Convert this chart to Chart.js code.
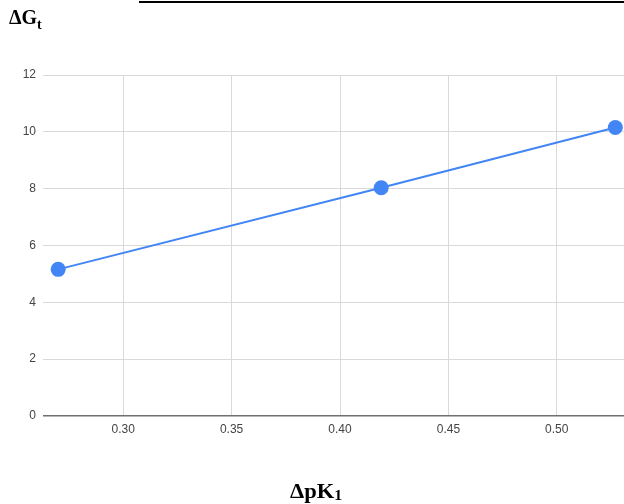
<!DOCTYPE html>
<html>
<head>
<meta charset="utf-8">
<script src="https://cdn.jsdelivr.net/npm/chart.js@4"></script>
<style>
    html, body {
        margin: 0;
        padding: 0;
        background: #fff;
    }
    #wrap {
        position: relative;
        width: 624px;
        height: 504px;
        overflow: hidden;
    }
    #chart {
        position: absolute;
        left: 0;
        top: 0;
    }
    .rule {
        position: absolute;
        top: 1px;
        left: 139px;
        right: 0;
        height: 2px;
        background: #000;
    }
    .label {
        position: absolute;
        font-family: "Liberation Serif", "Times New Roman", serif;
        font-weight: bold;
        font-size: 20px;
        line-height: 20px;
        color: #000;
        white-space: nowrap;
    }
    .label .sub {
        position: relative;
        top: 5px;
        font-size: 14px;
    }
    .wide {
        transform: scaleX(1.13);
        transform-origin: left top;
    }
    .wide .sub {
        top: 2px;
    }
</style>
</head>
<body>
<div id="wrap">
    <canvas id="chart" width="624" height="504"></canvas>
    <div class="rule"></div>
    <div class="label" style="left: 9px; top: 7px;">ΔG<span class="sub">t</span></div>
    <div class="label wide" style="left: 290px; top: 481px;">ΔpK<span class="sub">1</span></div>
</div>
<script>
    // values
    const deltaPK = [0.27, 0.419, 0.527];
    const deltaG = [5.16, 8.03, 10.15];

    const xTicks = [0.30, 0.35, 0.40, 0.45, 0.50];
    const yTicks = [0, 2, 4, 6, 8, 10, 12];

    const blue = '#4285f4';

    const points = deltaPK.map((x, i) => {
        return {x: x, y: deltaG[i]};
    });

    const tickFont = {
        family: '"Liberation Sans", Arial, sans-serif',
        size: 12
    };

    new Chart(document.getElementById('chart').getContext('2d'), {
        type: 'line',
        data: {
            datasets: [{
                data: points,
                borderColor: blue,
                backgroundColor: blue,
                borderWidth: 2,
                pointRadius: 7.5,
                pointHoverRadius: 7.5,
                pointBorderWidth: 0,
                tension: 0,
                clip: false
            }]
        },
        options: {
            responsive: false,
            animation: false,
            events: [],
            layout: {
                // chart runs off the right edge, so no auto padding for the points
                autoPadding: false,
                padding: {top: 75, right: 0, bottom: 58, left: 0}
            },
            plugins: {
                legend: {display: false},
                tooltip: {enabled: false}
            },
            scales: {
                x: {
                    type: 'linear',
                    min: 0.263,
                    max: 0.531,
                    afterBuildTicks: (scale) => {
                        scale.ticks = xTicks.map(v => ({value: v}));
                    },
                    afterFit: (scale) => {
                        scale.height = 30;
                        scale.paddingLeft = 0;
                        scale.paddingRight = 0;
                    },
                    border: {display: false},
                    grid: {
                        color: '#d9d9d9',
                        lineWidth: 1,
                        drawTicks: false
                    },
                    ticks: {
                        padding: 6,
                        color: '#444',
                        font: tickFont,
                        maxRotation: 0,
                        callback: (v) => Number(v).toFixed(2)
                    }
                },
                y: {
                    type: 'linear',
                    min: 0,
                    max: 12,
                    afterBuildTicks: (scale) => {
                        scale.ticks = yTicks.map(v => ({value: v}));
                    },
                    afterFit: (scale) => {
                        scale.width = 43;
                        scale.paddingTop = 0;
                        scale.paddingBottom = 0;
                    },
                    border: {display: false},
                    grid: {
                        color: (ctx) => ctx.tick && ctx.tick.value === 0 ? '#6f6f6f' : '#d9d9d9',
                        lineWidth: (ctx) => ctx.tick && ctx.tick.value === 0 ? 1.6 : 1,
                        drawTicks: false
                    },
                    ticks: {
                        padding: 7,
                        color: '#444',
                        font: tickFont
                    }
                }
            }
        }
    });
</script>
</body>
</html>
